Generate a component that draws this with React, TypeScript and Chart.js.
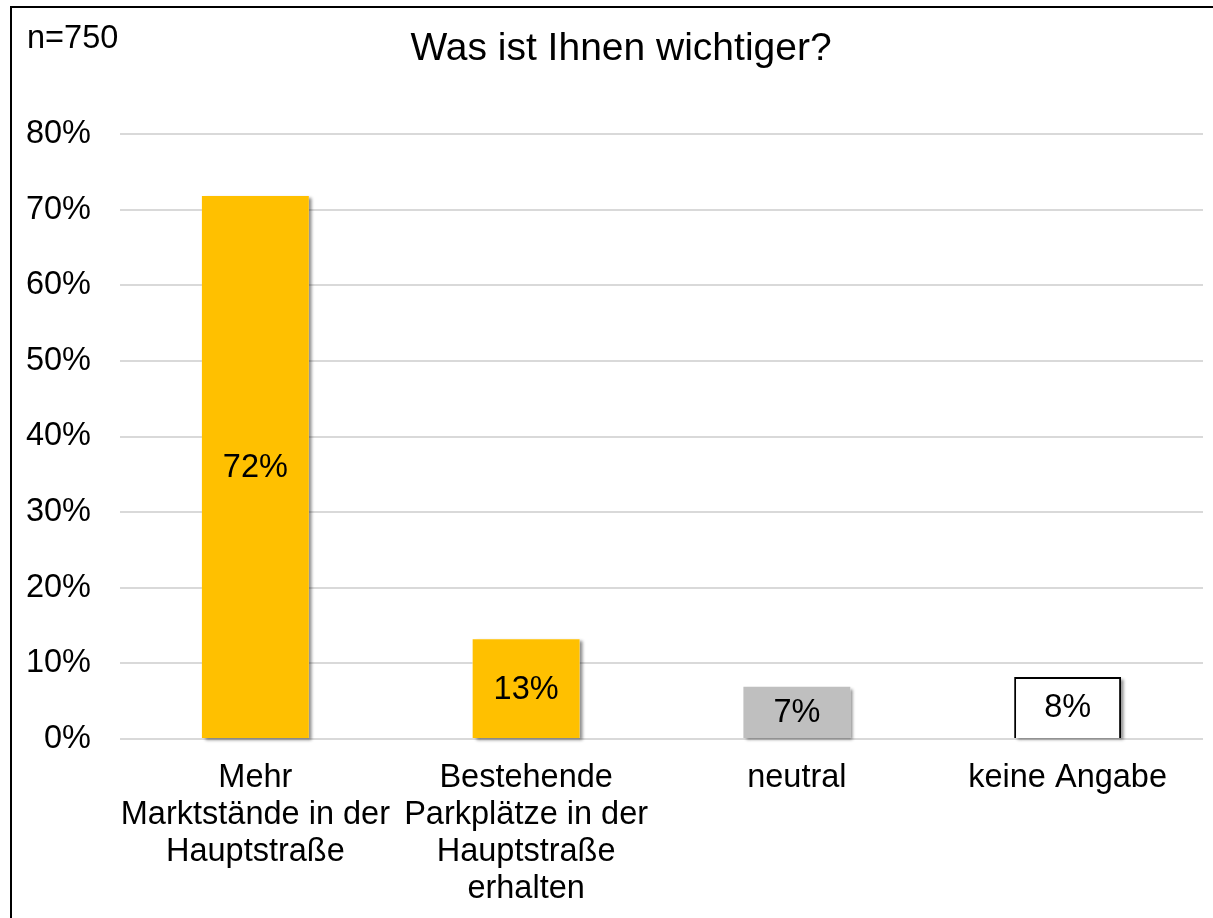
import React, { useEffect, useRef } from "react";
import { Chart, registerables } from "chart.js";

Chart.register(...registerables);

const categories: string[][] = [
  ["Mehr", "Marktstände in der", "Hauptstraße"],
  ["Bestehende", "Parkplätze in der", "Hauptstraße", "erhalten"],
  ["neutral"],
  ["keine Angabe"],
];
const values: number[] = [71.8, 13.2, 6.9, 8.2];
const barColors: string[] = ["#FFC000", "#FFC000", "#BFBFBF", "#FFFFFF"];
const barBorderColors: string[] = ["#FFC000", "#FFC000", "#BFBFBF", "#000000"];
const barBorderWidths: number[] = [0, 0, 0, 2];
const yTicks: number[] = [0, 10, 20, 30, 40, 50, 60, 70, 80];
const titleText = "Was ist Ihnen wichtiger?";
const sampleText = "n=750";

const FONT = "'Liberation Sans', Arial, sans-serif";

const shadowPlugin = {
  id: "barShadow",
  beforeDatasetsDraw(chart: any) {
    const ctx = chart.ctx;
    const meta = chart.getDatasetMeta(0);
    ctx.save();
    ctx.shadowColor = "rgba(0,0,0,0.45)";
    ctx.shadowOffsetX = 3;
    ctx.shadowOffsetY = 2;
    ctx.shadowBlur = 3;
    ctx.fillStyle = "#ffffff";
    meta.data.forEach((el: any) => {
      const p = el.getProps(["x", "y", "width", "base"], true);
      ctx.fillRect(p.x - p.width / 2, p.y, p.width, p.base - p.y);
    });
    ctx.restore();
  },
};

const labelPlugin = {
  id: "valueLabels",
  afterDatasetsDraw(chart: any) {
    const ctx = chart.ctx;
    const meta = chart.getDatasetMeta(0);
    ctx.save();
    ctx.font = `32.5px ${FONT}`;
    ctx.fillStyle = "#000";
    ctx.textAlign = "center";
    ctx.textBaseline = "middle";
    meta.data.forEach((el: any, i: number) => {
      const p = el.getProps(["x", "y", "base"], true);
      ctx.fillText(Math.round(values[i]) + "%", p.x, (p.y + p.base) / 2 + 1);
    });
    ctx.restore();
  },
  afterDraw(chart: any) {
    const ctx = chart.ctx;
    ctx.save();
    ctx.fillStyle = "#000";
    ctx.textBaseline = "middle";
    ctx.font = `39px ${FONT}`;
    ctx.textAlign = "center";
    ctx.fillText(titleText, 621, 49);
    ctx.font = `32.5px ${FONT}`;
    ctx.textAlign = "left";
    ctx.fillText(sampleText, 27, 39);
    ctx.restore();
  },
};

export default function App() {
  const ref = useRef<HTMLCanvasElement | null>(null);
  useEffect(() => {
    if (!ref.current) return;
    const chart = new Chart(ref.current, {
      type: "bar",
      data: {
        labels: categories,
        datasets: [
          {
            data: values,
            backgroundColor: barColors,
            borderColor: barBorderColors,
            borderWidth: barBorderWidths,
            categoryPercentage: 1,
            barPercentage: 0.395,
          },
        ],
      },
      options: {
        animation: false,
        responsive: false,
        devicePixelRatio: 1,
        layout: { padding: { left: 0, right: 10, top: 134, bottom: 0 } },
        plugins: {
          legend: { display: false },
          title: { display: false },
          tooltip: { enabled: false },
        },
        scales: {
          x: {
            grid: { display: false, drawTicks: false },
            border: { display: false },
            ticks: {
              color: "#000",
              font: { family: FONT, size: 32.5, lineHeight: 1.13 },
              padding: 21,
              maxRotation: 0,
              autoSkip: false,
            },
            afterFit: (s: any) => {
              s.height = 179;
            },
          },
          y: {
            min: 0,
            max: 80,
            afterBuildTicks: (s: any) => {
              s.ticks = yTicks.map((v) => ({ value: v }));
            },
            grid: { color: "#d9d9d9", lineWidth: 2, drawTicks: false },
            border: { display: false },
            ticks: {
              color: "#000",
              font: { family: FONT, size: 32.5 },
              padding: 29,
              callback: (v: any) => v + "%",
            },
            afterFit: (s: any) => {
              s.width = 120;
            },
          },
        },
      },
      plugins: [shadowPlugin, labelPlugin],
    });
    return () => chart.destroy();
  }, []);

  return (
    <div
      style={{
        position: "fixed",
        left: 0,
        top: 0,
        width: 1213,
        height: 918,
        background: "#fff",
        overflow: "hidden",
      }}
    >
      <canvas ref={ref} width={1213} height={918} style={{ display: "block" }} />
      <div
        style={{
          position: "absolute",
          left: 10,
          top: 6,
          width: 1300,
          height: 1000,
          borderLeft: "2px solid #000",
          borderTop: "2px solid #000",
          pointerEvents: "none",
        }}
      />
    </div>
  );
}
